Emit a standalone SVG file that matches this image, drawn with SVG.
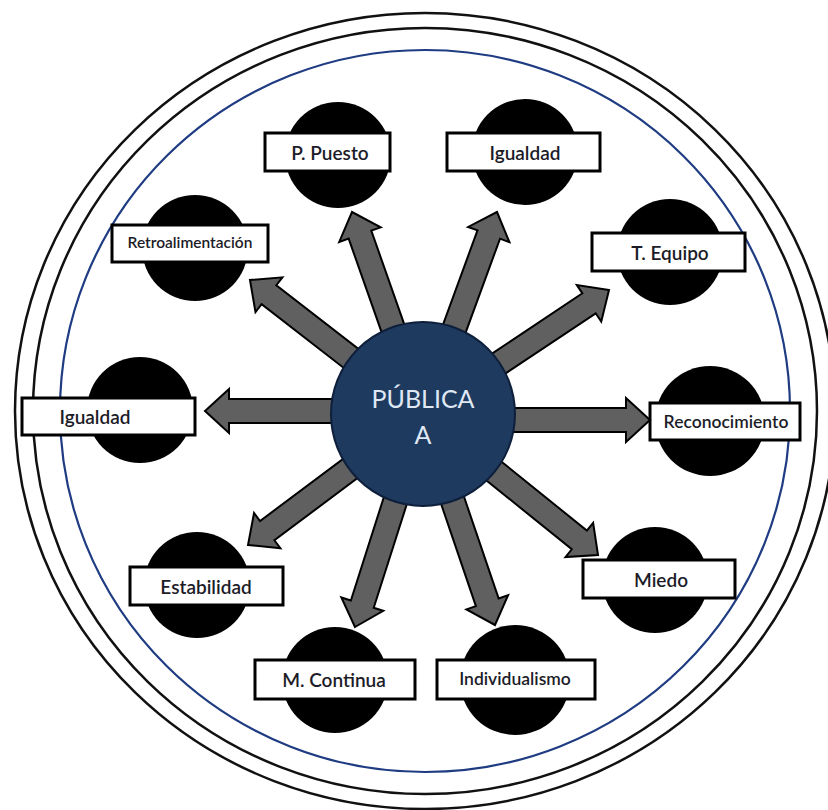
<svg xmlns="http://www.w3.org/2000/svg" width="828" height="810" viewBox="0 0 828 810">
  <style>
    .ring { fill: none; stroke: #111; stroke-width: 2.5; }
    .ring-blue { fill: none; stroke: #1f3c82; stroke-width: 2.2; }
    .disc { fill: #000; }
    .box { fill: #fff; stroke: #000; stroke-width: 3; }
    .lbl { font-family: Lato, "Open Sans", "Liberation Sans", sans-serif; font-weight: 600; fill: #1c1c28; text-anchor: middle; dominant-baseline: central; }
    .big { font-size: 19px; }
    .small { font-size: 17.5px; }
    .tiny { font-size: 15.5px; }
    .arrow { fill: #606060; stroke: #000; stroke-width: 2; stroke-linejoin: miter; }
    .hub { fill: #1f3a5f; stroke: #0d1f3a; stroke-width: 2; }
    .hub-text { font-family: Lato, "Open Sans", "Liberation Sans", sans-serif; font-size: 25px; fill: #dfe8f4; text-anchor: middle; }
  </style>

  <rect width="828" height="810" fill="#fff"/>

  <!-- frame rings -->
  <ellipse class="ring" cx="425" cy="411" rx="410" ry="398"/>
  <ellipse class="ring" cx="425" cy="411" rx="392" ry="383"/>
  <ellipse class="ring-blue" cx="425" cy="411" rx="365" ry="361"/>

  <!-- satellite nodes -->
  <g id="node-ppuesto">
    <circle class="disc" cx="338" cy="155" r="53"/>
    <rect class="box" x="265" y="133" width="125" height="38"/>
    <text class="lbl big" x="330" y="152">P. Puesto</text>
  </g>
  <g id="node-igualdad-top">
    <circle class="disc" cx="525" cy="152" r="53"/>
    <rect class="box" x="447" y="133" width="153" height="38"/>
    <text class="lbl big" x="525" y="152">Igualdad</text>
  </g>
  <g id="node-tequipo">
    <circle class="disc" cx="670" cy="252" r="53"/>
    <rect class="box" x="592" y="233" width="153" height="38"/>
    <text class="lbl big" x="670" y="252">T. Equipo</text>
  </g>
  <g id="node-reconocimiento">
    <circle class="disc" cx="710" cy="421" r="55"/>
    <rect class="box" x="650" y="403" width="150" height="37"/>
    <text class="lbl small" x="726" y="421">Reconocimiento</text>
  </g>
  <g id="node-miedo">
    <circle class="disc" cx="655" cy="580" r="53"/>
    <rect class="box" x="583" y="560" width="152" height="38"/>
    <text class="lbl big" x="661" y="579">Miedo</text>
  </g>
  <g id="node-individualismo">
    <circle class="disc" cx="515" cy="680" r="55"/>
    <rect class="box" x="437" y="660" width="158" height="39"/>
    <text class="lbl small" x="515" y="678">Individualismo</text>
  </g>
  <g id="node-mcontinua">
    <circle class="disc" cx="335" cy="680" r="53"/>
    <rect class="box" x="255" y="660" width="160" height="39"/>
    <text class="lbl big" x="334" y="679">M. Continua</text>
  </g>
  <g id="node-estabilidad">
    <circle class="disc" cx="197" cy="585" r="53"/>
    <rect class="box" x="130" y="567" width="153" height="38"/>
    <text class="lbl big" x="206" y="586">Estabilidad</text>
  </g>
  <g id="node-igualdad-left">
    <circle class="disc" cx="140" cy="410" r="53"/>
    <rect class="box" x="22" y="398" width="173" height="37"/>
    <text class="lbl big" x="95" y="416">Igualdad</text>
  </g>
  <g id="node-retroalimentacion">
    <circle class="disc" cx="195" cy="248" r="53"/>
    <rect class="box" x="112" y="225" width="156" height="37"/>
    <text class="lbl tiny" x="190" y="242">Retroalimentación</text>
  </g>

  <!-- block arrows radiating from the hub; each is drawn tip-at-origin pointing +x -->
  <g id="connectors">
    <polygon class="arrow" transform="translate(352,212) rotate(-109.4)" points="0,0 -24,-22 -24,-12 -134,-12 -134,12 -24,12 -24,22"/>
    <polygon class="arrow" transform="translate(497,212) rotate(-69.9)" points="0,0 -24,-22 -24,-12 -135,-12 -135,12 -24,12 -24,22"/>
    <polygon class="arrow" transform="translate(609,290) rotate(-33.7)" points="0,0 -24,-22 -24,-12 -143,-12 -143,12 -24,12 -24,22"/>
    <polygon class="arrow" transform="translate(650,420) rotate(0)" points="0,0 -24,-22 -24,-12 -140,-12 -140,12 -24,12 -24,22"/>
    <polygon class="arrow" transform="translate(598,555) rotate(38.9)" points="0,0 -24,-22 -24,-12 -145,-12 -145,12 -24,12 -24,22"/>
    <polygon class="arrow" transform="translate(495,625) rotate(71.2)" points="0,0 -24,-22 -24,-12 -143,-12 -143,12 -24,12 -24,22"/>
    <polygon class="arrow" transform="translate(355,627) rotate(107.7)" points="0,0 -24,-22 -24,-12 -144,-12 -144,12 -24,12 -24,22"/>
    <polygon class="arrow" transform="translate(248,545) rotate(143.2)" points="0,0 -24,-22 -24,-12 -139,-12 -139,12 -24,12 -24,22"/>
    <polygon class="arrow" transform="translate(205,411) rotate(180)" points="0,0 -24,-22 -24,-12 -138,-12 -138,12 -24,12 -24,22"/>
    <polygon class="arrow" transform="translate(250,280) rotate(-142.2)" points="0,0 -24,-22 -24,-12 -139,-12 -139,12 -24,12 -24,22"/>
  </g>

  <!-- central hub -->
  <g id="hub">
    <circle class="hub" cx="423" cy="414" r="92"/>
    <text class="hub-text" x="423" y="408">PÚBLICA</text>
    <text class="hub-text" x="423" y="444">A</text>
  </g>
</svg>
